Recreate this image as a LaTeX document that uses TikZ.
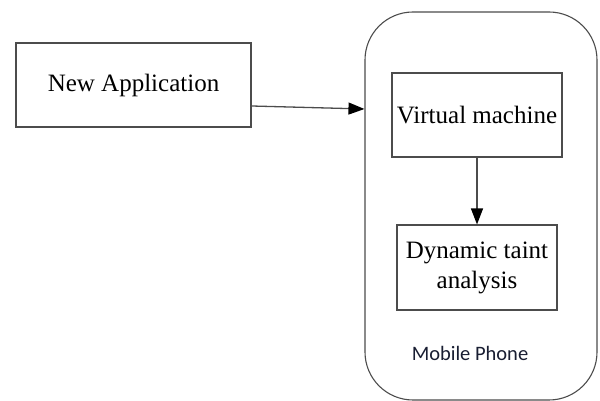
\documentclass[tikz,border=0pt]{standalone}
\usepackage{fontspec}
\setmainfont{Liberation Serif}
\newfontfamily\labelfont{Carlito}
\usetikzlibrary{arrows.meta}
\definecolor{labelblue}{RGB}{25,30,50}

\begin{document}
\begin{tikzpicture}[x=1pt, y=1pt, >={Triangle[length=16pt,width=12pt,color=black]}]
    \tikzset{
        box/.style={rectangle, draw=black!70, line width=1.1pt, align=center, inner sep=0pt, font=\fontsize{25}{30}\selectfont},
        link/.style={draw=black!70, line width=1.3pt, ->}
    }
    \useasboundingbox (0,0) rectangle (600,401);
    \node (phone) [rectangle, draw=black!70, line width=1.1pt, rounded corners=48pt, minimum width=232pt, minimum height=388pt] at (481,195) {};
    \node (app) [box, minimum width=235pt, minimum height=84pt] at (133.5,316) {New Application};
    \node (vm) [box, minimum width=170pt, minimum height=84pt] at (477,286) {Virtual machine};
    \node (dta) [box, minimum width=160pt, minimum height=85pt] at (477,133.5) {Dynamic taint\\analysis};
    \node (phonelabel) [font=\labelfont\fontsize{20.5}{24}\selectfont, text=labelblue] at (470,48) {Mobile Phone};
    \draw[link] ([yshift=-21pt]app.east) -- ([yshift=-24pt]app.east -| phone.west);
    \draw[link] (vm.south) -- (dta.north);
\end{tikzpicture}
\end{document}
